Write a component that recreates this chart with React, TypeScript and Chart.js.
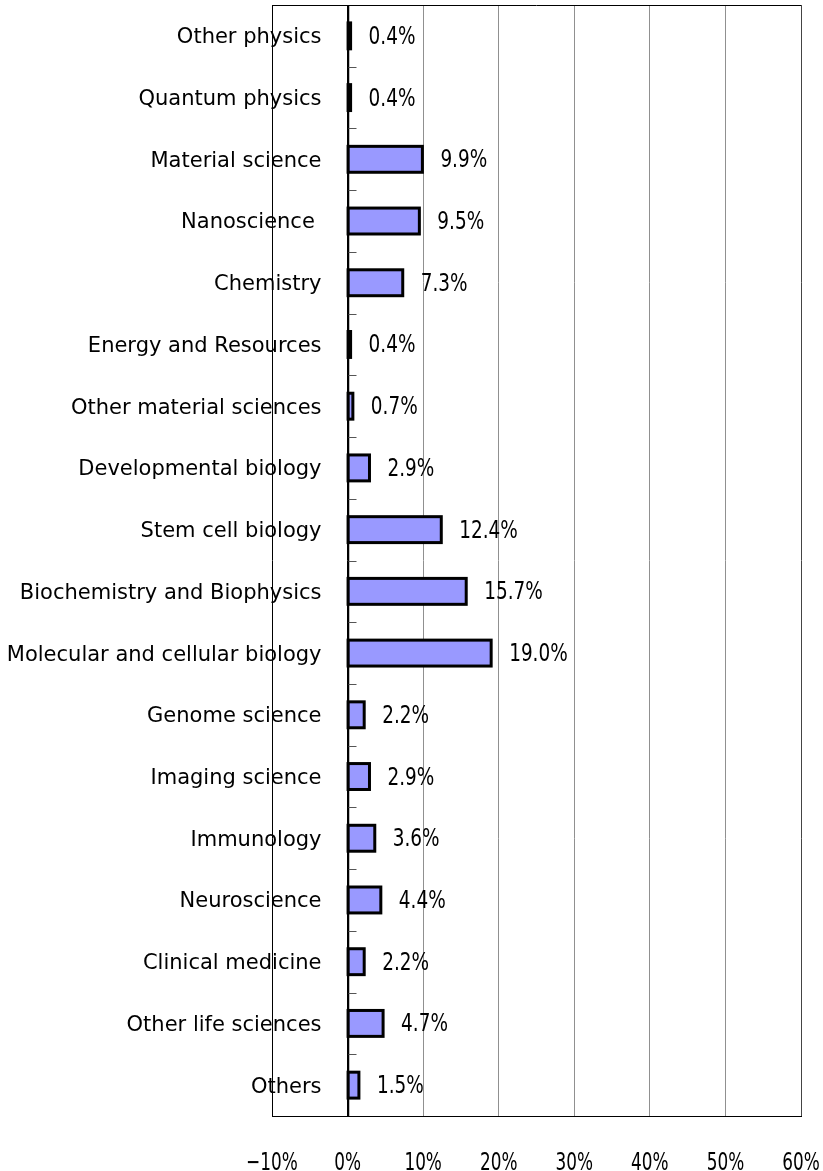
import React, { useEffect, useRef } from "react";
import { Chart, registerables } from "chart.js";

Chart.register(...registerables);

const categories = [
  "Other physics",
  "Quantum physics",
  "Material science",
  "Nanoscience ",
  "Chemistry",
  "Energy and Resources",
  "Other material sciences",
  "Developmental biology",
  "Stem cell biology",
  "Biochemistry and Biophysics",
  "Molecular and cellular biology",
  "Genome science",
  "Imaging science",
  "Immunology",
  "Neuroscience",
  "Clinical medicine",
  "Other life sciences",
  "Others",
];

const shares = [0.4, 0.4, 9.9, 9.5, 7.3, 0.4, 0.7, 2.9, 12.4, 15.7, 19.0, 2.2, 2.9, 3.6, 4.4, 2.2, 4.7, 1.5];

const xMin = -10;
const xMax = 60;
const xStep = 10;
// where the category labels end (just left of the 0% axis line)
const labelAnchor = -3.45;

const NARROW = "'DejaVu Sans Condensed', 'Liberation Sans', Arial, sans-serif";
const REGULAR = "'DejaVu Sans', 'Liberation Sans', Arial, sans-serif";

const fmtTick = (v: number) => (v < 0 ? "\u2212" + Math.abs(v) : String(v)) + "%";

const framePlugin = {
  id: "frame",
  afterDraw(chart: any) {
    const { ctx, chartArea } = chart;
    const xs = chart.scales.x;
    const ys = chart.scales.y;
    const x0 = Math.round(xs.getPixelForValue(0)) + 0.5;
    ctx.save();
    ctx.strokeStyle = "#000";
    ctx.lineWidth = 1;
    ctx.beginPath();
    ctx.moveTo(chartArea.left, Math.round(chartArea.top) + 0.5);
    ctx.lineTo(chartArea.right, Math.round(chartArea.top) + 0.5);
    ctx.stroke();
    // small tick marks at category boundaries, right of the axis
    ctx.strokeStyle = "#555";
    for (let i = 1; i < categories.length; i++) {
      const y = Math.round((ys.getPixelForValue(i - 1) + ys.getPixelForValue(i)) / 2) + 0.5;
      ctx.beginPath();
      ctx.moveTo(x0, y);
      ctx.lineTo(x0 + 8, y);
      ctx.stroke();
    }
    // x tick labels
    ctx.fillStyle = "#000";
    ctx.font = `25px ${NARROW}`;
    ctx.textAlign = "center";
    ctx.textBaseline = "alphabetic";
    xs.ticks.forEach((t: any) => {
      ctx.save();
      ctx.translate(xs.getPixelForValue(t.value), 1170);
      ctx.scale(0.75, 1);
      ctx.fillText(fmtTick(t.value), 0, 0);
      ctx.restore();
    });
    ctx.restore();
  },
};

const barPlugin = {
  id: "barsAndLabels",
  afterDatasetsDraw(chart: any) {
    const { ctx } = chart;
    const xs = chart.scales.x;
    const x0 = xs.getPixelForValue(0);
    const meta = chart.getDatasetMeta(0);
    ctx.save();
    // zero axis line
    ctx.strokeStyle = "#000";
    ctx.lineWidth = 1.5;
    ctx.beginPath();
    ctx.moveTo(Math.round(x0) + 0.5, chart.chartArea.top);
    ctx.lineTo(Math.round(x0) + 0.5, chart.chartArea.bottom);
    ctx.stroke();
    // bar outlines centred on the bar edges
    ctx.lineWidth = 3;
    ctx.lineJoin = "miter";
    meta.data.forEach((bar: any) => {
      const h = bar.height;
      ctx.strokeRect(bar.base, bar.y - h / 2, bar.x - bar.base, h);
    });
    // value labels
    ctx.fillStyle = "#000";
    ctx.font = `25px ${NARROW}`;
    ctx.textAlign = "left";
    ctx.textBaseline = "alphabetic";
    meta.data.forEach((bar: any, i: number) => {
      ctx.save();
      ctx.translate(bar.x + 18, bar.y + 8);
      ctx.scale(0.82, 1);
      ctx.fillText(shares[i].toFixed(1) + "%", 0, 0);
      ctx.restore();
    });
    ctx.restore();
  },
};

function zeroPadding(scale: any) {
  scale.paddingLeft = 0;
  scale.paddingRight = 0;
  scale.paddingTop = 0;
  scale.paddingBottom = 0;
}

export default function App() {
  const ref = useRef<HTMLCanvasElement | null>(null);

  useEffect(() => {
    if (!ref.current) return;
    const chart = new Chart(ref.current, {
      type: "bar",
      data: {
        labels: categories,
        datasets: [
          {
            data: shares,
            backgroundColor: "#9999FF",
            borderWidth: 0,
            barPercentage: 0.42,
            categoryPercentage: 1,
          },
        ],
      },
      options: {
        indexAxis: "y",
        animation: false,
        responsive: false,
        events: [],
        layout: { padding: { left: 272, top: 5, right: 22, bottom: 0 } },
        plugins: {
          legend: { display: false },
          tooltip: { enabled: false },
        },
        scales: {
          x: {
            type: "linear",
            min: xMin,
            max: xMax,
            position: "bottom",
            afterFit(scale: any) {
              scale.height = 55;
              zeroPadding(scale);
            },
            ticks: {
              stepSize: xStep,
              display: false,
              callback: (v: any) => fmtTick(Number(v)),
            },
            grid: {
              drawTicks: false,
              lineWidth: 1,
              color: (c: any) => {
                const v = c.tick ? c.tick.value : null;
                if (v === xMin || v === 0) return "#000";
                if (v === xMax) return "#444";
                return "#909090";
              },
            },
            border: { display: true, color: "#000", width: 1 },
          },
          y: {
            type: "category",
            position: { x: labelAnchor } as any,
            offset: true,
            afterFit(scale: any) {
              zeroPadding(scale);
            },
            ticks: {
              color: "#000",
              padding: 0,
              labelOffset: 2,
              font: { family: REGULAR, size: 21 },
            },
            grid: { display: false, drawOnChartArea: false, drawTicks: false },
            border: { display: false },
          },
        },
      },
      plugins: [framePlugin, barPlugin],
    });
    return () => chart.destroy();
  }, []);

  return (
    <div style={{ position: "absolute", left: 0, top: 0, width: 823, height: 1171, background: "#fff" }}>
      <canvas ref={ref} width={823} height={1171} style={{ display: "block" }} />
    </div>
  );
}
